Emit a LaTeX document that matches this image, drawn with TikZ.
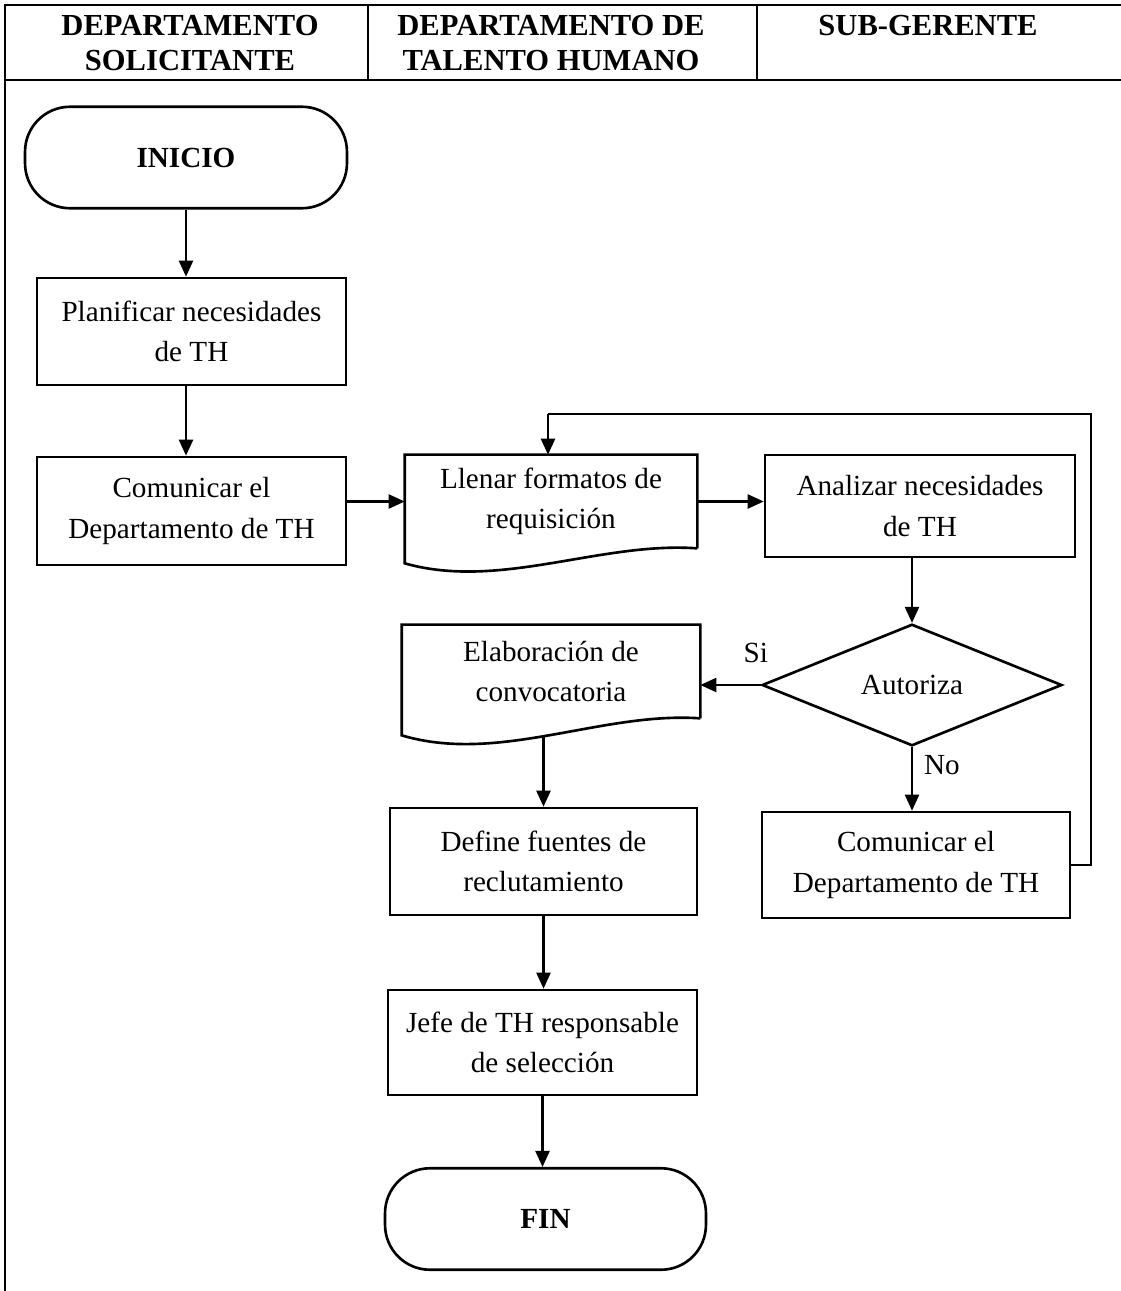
\documentclass[tikz,border=0pt]{standalone}
\usepackage{fontspec}
\setmainfont{Liberation Serif}
\usetikzlibrary{arrows.meta,positioning,calc,shapes.geometric}
\newcommand{\flowfont}{\fontsize{16.6}{23}\selectfont}
\newcommand{\headfont}{\fontsize{17.4}{19.8}\selectfont\bfseries}
\tikzset{
  arr/.style={-{Triangle[length=3.2mm,width=2.8mm]}, line width=1.3pt, black},
  thinln/.style={line width=0.7pt, black},
  frameln/.style={line width=1.1pt, black},
  proc/.style={draw, line width=1.5pt, minimum width=6.18cm, minimum height=2.14cm,
    align=center, inner sep=2pt, font=\flowfont},
  term/.style={draw, line width=1.5pt, rounded corners=0.9cm, minimum width=6.44cm,
    minimum height=2.03cm, align=center, font=\flowfont\bfseries},
  docu/.style={minimum width=5.84cm, minimum height=1.86cm, align=center,
    inner sep=2pt, font=\flowfont},
  docln/.style={line width=1.5pt, black},
  decis/.style={diamond, draw, line width=1.5pt, minimum width=6cm, minimum height=2.28cm,
    inner sep=0pt, font=\flowfont},
  hdr/.style={font=\headfont, align=center},
  lbl/.style={font=\flowfont}
}
\begin{document}
\begin{tikzpicture}[x=0.02cm,y=-0.02cm]
  \useasboundingbox (0,0) rectangle (1121,1291);
  % table frame
  \draw[frameln] (5,1291) -- (5,5) -- (1121,5);
  \draw[frameln] (5,80) -- (1121,80);
  \draw[frameln] (368,5) -- (368,80);
  \draw[frameln] (757,5) -- (757,80);
  \node[hdr] (h1) at (190,43) {DEPARTAMENTO\\SOLICITANTE};
  \node[hdr] (h2) at (551,43) {DEPARTAMENTO DE\\TALENTO HUMANO};
  \node[hdr] (h3) at (928,26) {SUB-GERENTE};

  % nodes
  \node[term] (inicio) at (186,157.5) {INICIO};
  \node[proc] (plan) at (191.5,331.5) {Planificar necesidades\\de TH};
  \node[proc, minimum height=2.16cm] (com1) at (191.5,511) {Comunicar el\\Departamento de TH};
  \node[docu] (llenar) at (551,501.5) {Llenar formatos de\\requisición};
  \draw[docln] (llenar.south east) -- (llenar.north east) -- (llenar.north west)
    -- ([yshift=-0.3cm]llenar.south west)
    .. controls +(95,27) and +(-97,-7) .. (llenar.south east);
  \node[proc, minimum width=6.2cm, minimum height=2.04cm] (ana) at (920,506) {Analizar necesidades\\de TH};
  \node[decis] (aut) at (912,685) {Autoriza};
  \node[docu, minimum width=5.96cm] (elab) at (551,671.5) {Elaboración de\\convocatoria};
  \draw[docln] (elab.south east) -- (elab.north east) -- (elab.north west)
    -- ([yshift=-0.34cm]elab.south west)
    .. controls +(97,29) and +(-99,-7) .. (elab.south east);
  \node[proc, minimum width=6.14cm] (def) at (543.5,861.5) {Define fuentes de\\reclutamiento};
  \node[proc, minimum width=6.16cm, minimum height=2.12cm] (com2) at (916,865) {Comunicar el\\Departamento de TH};
  \node[proc, minimum height=2.1cm] (jefe) at (542.5,1042.5) {Jefe de TH responsable\\de selección};
  \node[term, minimum width=6.42cm] (fin) at (545.5,1219) {FIN};

  % connectors
  \draw[arr] (inicio.south) -- (inicio.south |- plan.north);
  \draw[arr] (inicio.south |- plan.south) -- (inicio.south |- com1.north);
  \draw[arr] (com1.east |- llenar.east) -- (llenar.west);
  \draw[arr] (llenar.east) -- (llenar.east -| ana.west);
  \draw[arr] (aut.north |- ana.south) -- (aut.north);
  \draw[arr] (aut.west) -- (aut.west -| elab.east) node[lbl, pos=0.0, above=0.3cm, xshift=-0.1cm] (si) {Si};
  \draw[arr] (aut.south) -- (aut.south |- com2.north) node[lbl, pos=0.28, right=0.1cm] (no) {No};
  \draw[arr] ($(def.north |- elab.south)+(0,19)$) -- (def.north);
  \draw[arr] (def.south) -- (def.south |- jefe.north);
  \draw[arr] (jefe.south) -- (jefe.south |- fin.north);

  % loop back
  \coordinate (lptop) at (1091,414);
  \coordinate (lpin) at (548,414);
  \draw[thinln] (com2.east) -| (lptop) -- (lpin);
  \draw[arr] (lpin) -- (lpin |- llenar.north);
\end{tikzpicture}
\end{document}
